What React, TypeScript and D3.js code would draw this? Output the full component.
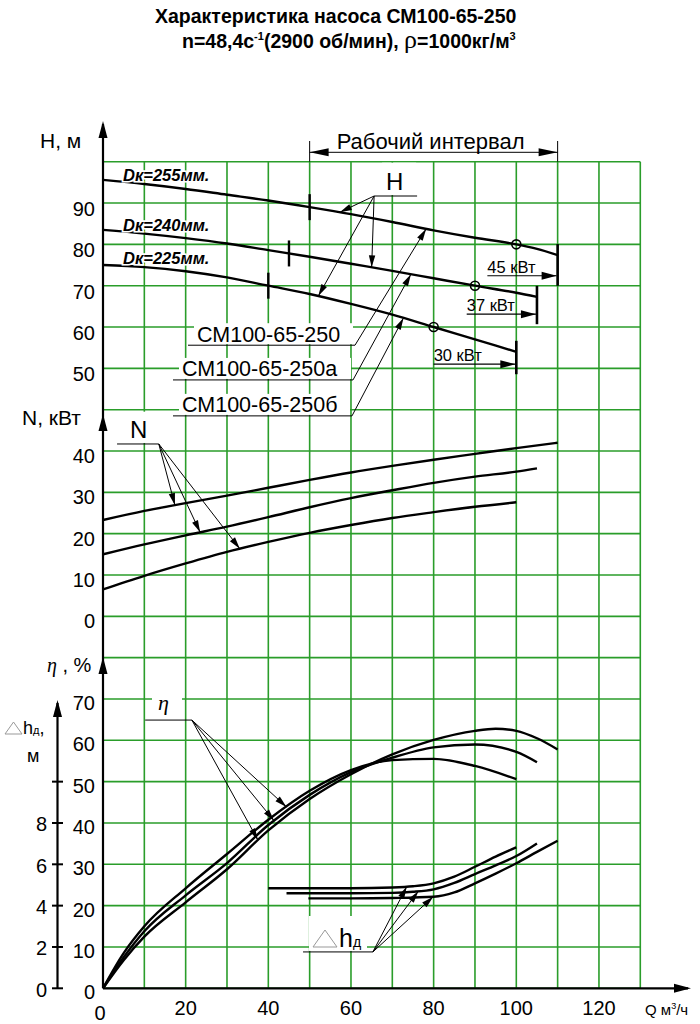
import React from "react";
import * as d3 from "d3";

const FONT = "'Liberation Sans', Arial, Helvetica, sans-serif";
const SERIF = "'Liberation Serif', 'Times New Roman', serif";
const GRID = "#2a9d2a";

// ---------- tick labels ----------
const qTickLabels = [0, 20, 40, 60, 80, 100, 120];
const hTickLabels = [50, 60, 70, 80, 90];
const nTickLabels = [0, 10, 20, 30, 40];
const etaTickLabels = [0, 10, 20, 30, 40, 50, 60, 70];
const dhTickLabels = [0, 2, 4, 6, 8];
const dhTickMarks = [0, 2, 4, 6, 8, 10];

// ---------- head H, m  (Q, H) ----------
const head255: [number, number][] = [[0, 95.6], [10, 94.6], [20, 93.4], [30, 92], [40, 90.6], [50, 89], [60, 87.3], [70, 85.4], [80, 83.4], [90, 81.6], [100, 80], [105, 78.9], [110, 77.4]];
const head240: [number, number][] = [[0, 83.5], [10, 82.6], [20, 81.5], [30, 80.2], [40, 78.6], [50, 77], [60, 75.3], [70, 73.6], [80, 71.8], [90, 70], [100, 68.3], [105, 67.3]];
const head225: [number, number][] = [[0, 75], [10, 74.5], [20, 73.5], [30, 72], [40, 70], [50, 68], [60, 65.6], [70, 63], [80, 60], [90, 57], [100, 54]];

// ---------- power N, kW ----------
const power255: [number, number][] = [[0, 23.3], [10, 25.5], [20, 27.4], [30, 29.2], [40, 31.1], [50, 33], [60, 34.8], [70, 36.4], [80, 37.9], [90, 39.3], [100, 40.7], [110, 42]];
const power240: [number, number][] = [[0, 15], [10, 17.4], [20, 19.6], [30, 21.7], [40, 24], [50, 26.4], [60, 28.6], [70, 30.5], [80, 32.3], [90, 33.8], [100, 35], [105, 35.8]];
const power225: [number, number][] = [[0, 6.5], [10, 9.8], [20, 12.8], [30, 15.6], [40, 18], [50, 20.2], [60, 22.1], [70, 23.8], [80, 25.2], [90, 26.5], [100, 27.6]];

// ---------- efficiency eta, % ----------
const eta255: [number, number][] = [[0, 0], [5, 6.8], [10, 12.5], [20, 20.8], [30, 28.8], [40, 38.2], [50, 45.8], [60, 51.8], [70, 56.6], [80, 60.1], [90, 62.3], [95, 62.8], [100, 62.3], [105, 60.5], [110, 57.8]];
const eta240: [number, number][] = [[0, 0], [5, 7.5], [10, 13.8], [20, 22.5], [30, 30.3], [40, 39.5], [50, 46.8], [60, 52.3], [70, 55.8], [80, 58.3], [90, 59], [100, 57.2], [105, 54.7]];
const eta225: [number, number][] = [[0, 0], [5, 8.5], [10, 15], [20, 24.2], [30, 32.5], [40, 40.8], [50, 47.8], [60, 52.8], [70, 55.2], [80, 55.5], [90, 53.8], [100, 50.6]];

// ---------- NPSH dh, m ----------
const npsh225: [number, number][] = [[40, 4.84], [50, 4.84], [60, 4.84], [70, 4.88], [75, 4.94], [80, 5.08], [85, 5.4], [90, 5.88], [95, 6.37], [100, 6.82]];
const npsh240: [number, number][] = [[44.4, 4.6], [60, 4.6], [70, 4.62], [75, 4.67], [80, 4.79], [85, 5.1], [90, 5.53], [95, 5.95], [100, 6.4], [105, 7.01]];
const npsh255: [number, number][] = [[49.7, 4.35], [60, 4.35], [70, 4.37], [80, 4.43], [85, 4.64], [90, 5.08], [95, 5.55], [100, 6.05], [105, 6.6], [110, 7.14]];

// ---------- annotations ----------
const diameters = ["Dк=255мм.", "Dк=240мм.", "Dк=225мм."];
const diameterLabelH = [95.4, 83.3, 75.3];
const models = ["СМ100-65-250", "СМ100-65-250а", "СМ100-65-250б"];
const modelUnderlineH = [55.6, 47.2, 38.5];
const modelTipQ = [78.2, 74.5, 72.7];
const motorPower = ["45 кВт", "37 кВт", "30 кВт"];
const motorArrowH = [72.4, 63.1, 51];
const motorLabelQ = [93, 88, 80];
const ratedQ = [100, 90, 80];
const intervalStartQ = [50, 45, 40];
const intervalQ = [50, 110];
const hLeaderTipQ = [57.3, 65, 52.1];
const nLeaderTipQ = [17.4, 23.5, 33.1];
const etaLeaderTipQ = [37.5, 41.4, 44.4];
const dhLeaderTipQ = [73.5, 76.3, 79.9];

// ---------- layout ----------
const X0 = 103;
const TOP = 161.7;
const CELL = 41.33;
const row = (i: number) => TOP + i * CELL;
const x = d3.scaleLinear().domain([0, 130]).range([X0, X0 + 13 * CELL]);
const yH = d3.scaleLinear().domain([100, 50]).range([row(0), row(5)]);
const yN = d3.scaleLinear().domain([50, 0]).range([row(6), row(11)]);
const yE = d3.scaleLinear().domain([80, 0]).range([row(12), row(20)]);
const yD = d3.scaleLinear().domain([16, 0]).range([row(12), row(20)]);

const interp = (s: [number, number][]) =>
  d3.scaleLinear().domain(s.map((d) => d[0])).range(s.map((d) => d[1]));

const pathOf = (s: [number, number][], y: d3.ScaleLinear<number, number>) =>
  d3.line<[number, number]>().x((d) => x(d[0])).y((d) => y(d[1])).curve(d3.curveMonotoneX)(s) || "";

function head(x1: number, y1: number, x2: number, y2: number, len = 12, hw = 3.2) {
  const dx = x2 - x1, dy = y2 - y1, L = Math.hypot(dx, dy);
  const ux = dx / L, uy = dy / L;
  const bx = x2 - ux * len, by = y2 - uy * len;
  const px = -uy, py = ux;
  return `M${x2},${y2}L${bx + px * hw},${by + py * hw}L${bx - px * hw},${by - py * hw}Z`;
}

function Arrow({ x1, y1, x2, y2, len = 12, hw = 3.2, w = 1 }: any) {
  return (
    <g>
      <line x1={x1} y1={y1} x2={x2} y2={y2} stroke="#000" strokeWidth={w} />
      <path d={head(x1, y1, x2, y2, len, hw)} fill="#000" />
    </g>
  );
}

export default function App() {
  const heads = [head255, head240, head225];
  const powers = [power255, power240, power225];
  const etas = [eta225, eta240, eta255];
  const npshs = [npsh225, npsh240, npsh255];
  const rows = d3.range(21);
  const cols = d3.range(0, 131, 10);

  const hOrigin = { x: x(65.6), y: yH(91.7) };
  const nOrigin = { x: x(13.5), y: yN(41.7) };
  const eOrigin = { x: x(21.5), y: yE(64.9) };
  const dOrigin = { x: x(65.3), y: yD(1.76) };

  return (
    <svg width={700} height={1024} style={{ position: "absolute", left: 0, top: 0, background: "#fff" }} fontFamily={FONT}>
      <rect width={700} height={1024} fill="#fff" />
      {/* title */}
      <text x={155} y={23} fontSize={19.5} fontWeight="bold">Характеристика насоса СМ100-65-250</text>
      <text x={182} y={48} fontSize={19.5} fontWeight="bold">
        n=48,4с<tspan dy={-8} fontSize={11}>-1</tspan>
        <tspan dy={8}>(2900 об/мин), </tspan>
        <tspan fontWeight="normal" fontSize={26} fontFamily={SERIF}>ρ</tspan>
        <tspan>=1000кг/м</tspan>
        <tspan dy={-8} fontSize={11}>3</tspan>
      </text>

      {/* grid */}
      <g stroke={GRID} strokeWidth={1.6}>
        {rows.map((i) => (
          <line key={"r" + i} x1={X0} x2={x(130)} y1={row(i)} y2={row(i)} />
        ))}
        {cols.slice(1).map((q) => (
          <line key={"c" + q} x1={x(q)} x2={x(q)} y1={row(0)} y2={row(20)} />
        ))}
      </g>

      {/* axes */}
      <g stroke="#000" strokeWidth={2.2}>
        <line x1={X0} x2={X0} y1={row(20)} y2={124} />
        <line x1={X0} x2={688} y1={row(20)} y2={row(20)} />
        <line x1={57.5} x2={57.5} y1={row(20)} y2={703} />
      </g>
      <path d={head(X0, 200, X0, 121, 17, 4.5)} fill="#000" />
      <path d={head(X0, 500, X0, 414, 17, 4.5)} fill="#000" />
      <path d={head(X0, 700, X0, 657, 17, 4.5)} fill="#000" />
      <path d={head(57.5, 800, 57.5, 700, 17, 4.5)} fill="#000" />
      <path d={head(600, row(20), 691, row(20), 17, 4.5)} fill="#000" />

      {/* axis titles */}
      <text x={40} y={148} fontSize={21}>H, м</text>
      <text x={22} y={425} fontSize={21}>N, кВт</text>
      <text x={47} y={672} fontSize={20}>
        <tspan fontFamily={SERIF} fontStyle="italic">η</tspan> , %
      </text>
      <path d="M5,734L22,734L13.5,722Z" fill="none" stroke="#999" strokeWidth={1} />
      <text x={23} y={734} fontSize={18}>h<tspan fontSize={11}>д</tspan>,</text>
      <text x={27} y={762} fontSize={18}>м</text>
      <text x={645} y={1015} fontSize={15}>Q м<tspan dy={-6} fontSize={9}>3</tspan><tspan dy={6}>/ч</tspan></text>

      {/* tick labels */}
      <g fontSize={20} textAnchor="end">
        {hTickLabels.map((v) => (
          <text key={"h" + v} x={95} y={yH(v) + 13}>{v}</text>
        ))}
        {nTickLabels.map((v) => (
          <text key={"n" + v} x={95} y={yN(v) + 12}>{v}</text>
        ))}
        {etaTickLabels.map((v) => (
          <text key={"e" + v} x={95} y={yE(v) + 11}>{v}</text>
        ))}
        {dhTickLabels.map((v) => (
          <text key={"d" + v} x={47} y={yD(v) + 8.5}>{v}</text>
        ))}
      </g>
      <g stroke="#000" strokeWidth={2}>
        {dhTickMarks.map((v) => (
          <line key={"dt" + v} x1={52} x2={63} y1={yD(v)} y2={yD(v)} />
        ))}
      </g>
      <g fontSize={20} textAnchor="middle">
        {qTickLabels.map((v) => (
          <text key={"q" + v} x={x(v) - (v === 0 ? 3 : 0)} y={v === 0 ? 1020 : 1015}>{v}</text>
        ))}
      </g>

      {/* working interval */}
      <g stroke="#000" strokeWidth={1}>
        {intervalQ.map((q) => (
          <line key={"iv" + q} x1={x(q)} x2={x(q)} y1={141} y2={row(0)} />
        ))}
        <line x1={x(intervalQ[0])} x2={x(intervalQ[1])} y1={152.3} y2={152.3} />
      </g>
      <path d={head(x(80), 152.3, x(intervalQ[0]), 152.3, 19, 4)} fill="#000" />
      <path d={head(x(80), 152.3, x(intervalQ[1]), 152.3, 19, 4)} fill="#000" />
      <text x={x(80) - 3} y={149} fontSize={22} textAnchor="middle">Рабочий интервал</text>

      {/* H curves */}
      <g fill="none" stroke="#000" strokeWidth={2.4}>
        {heads.map((s, i) => (
          <path key={"H" + i} d={pathOf(s, yH)} />
        ))}
      </g>
      {heads.map((s, i) => {
        const f = interp(s);
        const qs = intervalStartQ[i];
        const qe = s[s.length - 1][0];
        const yEnd = yH(s[s.length - 1][1]);
        const ya = yH(motorArrowH[i]);
        return (
          <g key={"Hann" + i}>
            <line x1={x(qs)} x2={x(qs)} y1={yH(f(qs)) - 13} y2={yH(f(qs)) + 13} stroke="#000" strokeWidth={2.4} />
            <line x1={x(qe)} x2={x(qe)} y1={yEnd - 11} y2={ya + 10} stroke="#000" strokeWidth={2.6} />
            <circle cx={x(ratedQ[i])} cy={yH(f(ratedQ[i]))} r={4.5} fill="none" stroke="#000" strokeWidth={1.6} />
            <Arrow x1={x(motorLabelQ[i])} y1={ya} x2={x(qe) - 1} y2={ya} len={15} hw={4} w={1.2} />
            <text x={x(motorLabelQ[i])} y={ya - 3} fontSize={16.5}>{motorPower[i]}</text>
          </g>
        );
      })}
      {diameters.map((t, i) => (
        <text key={"D" + i} x={123} y={yH(diameterLabelH[i]) - 0} fontSize={16.5} fontWeight="bold" fontStyle="italic"
          stroke="#fff" strokeWidth={3} paintOrder="stroke">{t}</text>
      ))}

      {/* H leader */}
      <rect x={hOrigin.x + 8} y={row(0) + 1} width={34} height={hOrigin.y - row(0) - 2} fill="#fff" />
      <text x={hOrigin.x + 12} y={190} fontSize={24}>H</text>
      <line x1={hOrigin.x} x2={x(76)} y1={hOrigin.y} y2={hOrigin.y} stroke="#000" strokeWidth={1} />
      {heads.map((s, i) => {
        const q = hLeaderTipQ[i];
        return <Arrow key={"hl" + i} x1={hOrigin.x} y1={hOrigin.y} x2={x(q)} y2={yH(interp(s)(q))} />;
      })}

      {/* model leaders */}
      {models.map((m, i) => {
        const uy = yH(modelUnderlineH[i]);
        const x1 = i === 0 ? 188 : 173;
        const x2 = i === 0 ? 355 : 353 - (i - 1);
        const q = modelTipQ[i];
        const s = heads[i];
        return (
          <g key={"m" + i}>
            <rect x={x1 + 6} y={uy - 22} width={x2 - x1 - 8} height={21} fill="#fff" />
            <text x={i === 0 ? 197 : 182} y={uy - 3.5} fontSize={21.5}>{m}</text>
            <line x1={x1} x2={x2} y1={uy} y2={uy} stroke="#000" strokeWidth={1} />
            <Arrow x1={x2} y1={uy} x2={x(q)} y2={yH(interp(s)(q))} />
          </g>
        );
      })}

      {/* N curves */}
      <g fill="none" stroke="#000" strokeWidth={2.4}>
        {powers.map((s, i) => (
          <path key={"N" + i} d={pathOf(s, yN)} />
        ))}
      </g>
      <rect x={x(3.4) + 8} y={row(6) + 2} width={x(13.5) - x(3.4) - 10} height={nOrigin.y - row(6) - 3} fill="#fff" />
      <text x={130} y={438} fontSize={24}>N</text>
      <line x1={x(3.4)} x2={nOrigin.x} y1={nOrigin.y} y2={nOrigin.y} stroke="#000" strokeWidth={1} />
      {powers.map((s, i) => {
        const q = nLeaderTipQ[i];
        return <Arrow key={"nl" + i} x1={nOrigin.x} y1={nOrigin.y} x2={x(q)} y2={yN(interp(s)(q))} />;
      })}

      {/* eta curves */}
      <g fill="none" stroke="#000" strokeWidth={2.4}>
        {etas.map((s, i) => (
          <path key={"E" + i} d={pathOf(s, yE)} />
        ))}
      </g>
      <rect x={152} y={693} width={30} height={20} fill="#fff" />
      <text x={158} y={710} fontSize={22} fontFamily={SERIF} fontStyle="italic">η</text>
      <line x1={x(10.2)} x2={eOrigin.x} y1={eOrigin.y} y2={eOrigin.y} stroke="#000" strokeWidth={1} />
      {[eta255, eta240, eta225].map((s, i) => {
        const q = etaLeaderTipQ[i];
        return <Arrow key={"el" + i} x1={eOrigin.x} y1={eOrigin.y} x2={x(q)} y2={yE(interp(s)(q))} />;
      })}

      {/* NPSH curves */}
      <g fill="none" stroke="#000" strokeWidth={2.4}>
        {npshs.map((s, i) => (
          <path key={"D" + i} d={pathOf(s, yD)} />
        ))}
      </g>
      <rect x={309} y={916} width={58} height={dOrigin.y - 917} fill="#fff" />
      <path d="M313,947L337,947L325,930Z" fill="none" stroke="#999" strokeWidth={1} />
      <text x={339} y={947} fontSize={25}>h<tspan fontSize={14}>д</tspan></text>
      <line x1={x(48.4)} x2={dOrigin.x} y1={dOrigin.y} y2={dOrigin.y} stroke="#000" strokeWidth={1} />
      {npshs.map((s, i) => {
        const q = dhLeaderTipQ[i];
        return <Arrow key={"dl" + i} x1={dOrigin.x} y1={dOrigin.y} x2={x(q)} y2={yD(interp(s)(q))} />;
      })}
    </svg>
  );
}
